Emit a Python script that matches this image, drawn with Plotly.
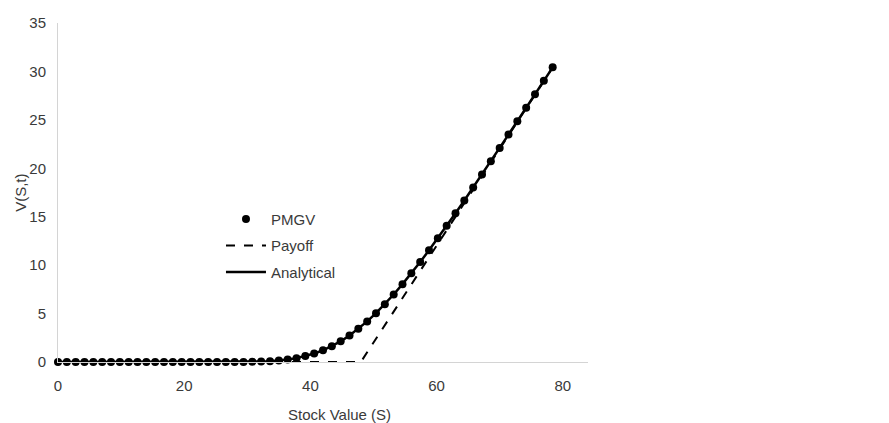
import plotly.graph_objects as go

# Stock values (S)
stock = [0.0, 1.4, 2.8, 4.2, 5.6, 7.0, 8.4, 9.8, 11.2, 12.6, 14.0, 15.4, 16.8, 18.2,
         19.6, 21.0, 22.4, 23.8, 25.2, 26.6, 28.0, 29.4, 30.8, 32.2, 33.6, 35.0, 36.4,
         37.8, 39.2, 40.6, 42.0, 43.4, 44.8, 46.2, 47.6, 49.0, 50.4, 51.8, 53.2, 54.6,
         56.0, 57.4, 58.8, 60.2, 61.6, 63.0, 64.4, 65.8, 67.2, 68.6, 70.0, 71.4, 72.8,
         74.2, 75.6, 77.0, 78.4]

# PMGV values V(S,t)
pmgv = [0, 0, 0, 0, 0, 0, 0, 0, 0, 0, 0, 0, 0, 0, 0, 0, 0, 0, 0, 0, 0,
        0.01, 0.02, 0.05, 0.09, 0.15, 0.26, 0.40, 0.61, 0.87, 1.21, 1.63, 2.13, 2.74,
        3.42, 4.19, 5.04, 5.97, 6.97, 8.04, 9.16, 10.32, 11.53, 12.78, 14.06, 15.36,
        16.67, 18.01, 19.37, 20.73, 22.10, 23.48, 24.86, 26.25, 27.64, 29.03, 30.42]

# Analytical values V(S,t)
analytical = [0, 0, 0, 0, 0, 0, 0, 0, 0, 0, 0, 0, 0, 0, 0, 0, 0, 0, 0, 0, 0,
              0.01, 0.02, 0.05, 0.09, 0.15, 0.26, 0.40, 0.61, 0.87, 1.21, 1.63, 2.13, 2.74,
              3.42, 4.19, 5.04, 5.97, 6.97, 8.04, 9.16, 10.32, 11.53, 12.78, 14.06, 15.36,
              16.67, 18.01, 19.37, 20.73, 22.10, 23.48, 24.86, 26.25, 27.64, 29.03, 30.42]

# Payoff
payoff_s = [0, 48, 78.4]
payoff_v = [0, 0, 30.4]

x_ticks = [0, 20, 40, 60, 80]
y_ticks = [0, 5, 10, 15, 20, 25, 30, 35]

FONT = "Liberation Sans, Arial, sans-serif"
TXT = "#3a3a3a"

fig = go.Figure()

fig.add_trace(go.Scatter(
    x=payoff_s, y=payoff_v, mode="lines", name="Payoff",
    line=dict(color="black", width=2, dash="dash"),
    legendgroup="b", legendrank=2, cliponaxis=False))

fig.add_trace(go.Scatter(
    x=stock, y=analytical, mode="lines", name="Analytical",
    line=dict(color="black", width=2.5),
    legendgroup="c", legendrank=3, cliponaxis=False))

fig.add_trace(go.Scatter(
    x=stock, y=pmgv, mode="markers", name="PMGV",
    marker=dict(color="black", size=8, symbol="circle"),
    legendgroup="a", legendrank=1, cliponaxis=False))

fig.update_layout(
    width=889, height=423,
    margin=dict(l=58, r=301, t=23, b=61, autoexpand=False),
    paper_bgcolor="white", plot_bgcolor="white",
    font=dict(family=FONT, size=15, color=TXT),
    showlegend=True,
    legend=dict(
        x=0.3075, y=0.47, xanchor="left", yanchor="top",
        bgcolor="rgba(0,0,0,0)", font=dict(family=FONT, size=15, color=TXT),
        traceorder="grouped", tracegroupgap=4, itemwidth=40),
    xaxis=dict(
        range=[0, 84], tickvals=x_ticks, ticktext=[str(v) for v in x_ticks],
        showgrid=False, zeroline=False, showline=True, linecolor="#d4d4d4", linewidth=1,
        ticks="", ticklabelstandoff=10, automargin=False,
        tickfont=dict(size=15, color=TXT)),
    yaxis=dict(
        range=[0, 35], tickvals=y_ticks, ticktext=[str(v) for v in y_ticks],
        showgrid=False, zeroline=False, showline=True, linecolor="#d4d4d4", linewidth=1,
        ticks="", ticklabelstandoff=8, automargin=False,
        tickfont=dict(size=15, color=TXT)),
    annotations=[
        dict(text="Stock Value (S)", xref="paper", yref="paper",
             x=0.532, y=-0.155, xanchor="center", yanchor="middle",
             showarrow=False, font=dict(family=FONT, size=15, color=TXT)),
        dict(text="V(S,t)", xref="paper", yref="paper", textangle=-90,
             x=-0.071, y=0.5, xanchor="center", yanchor="middle",
             showarrow=False, font=dict(family=FONT, size=15, color=TXT)),
    ],
)

fig.write_html("out.html", config={"displayModeBar": False},
               post_script="document.body.style.margin='0';document.body.style.padding='0';")
